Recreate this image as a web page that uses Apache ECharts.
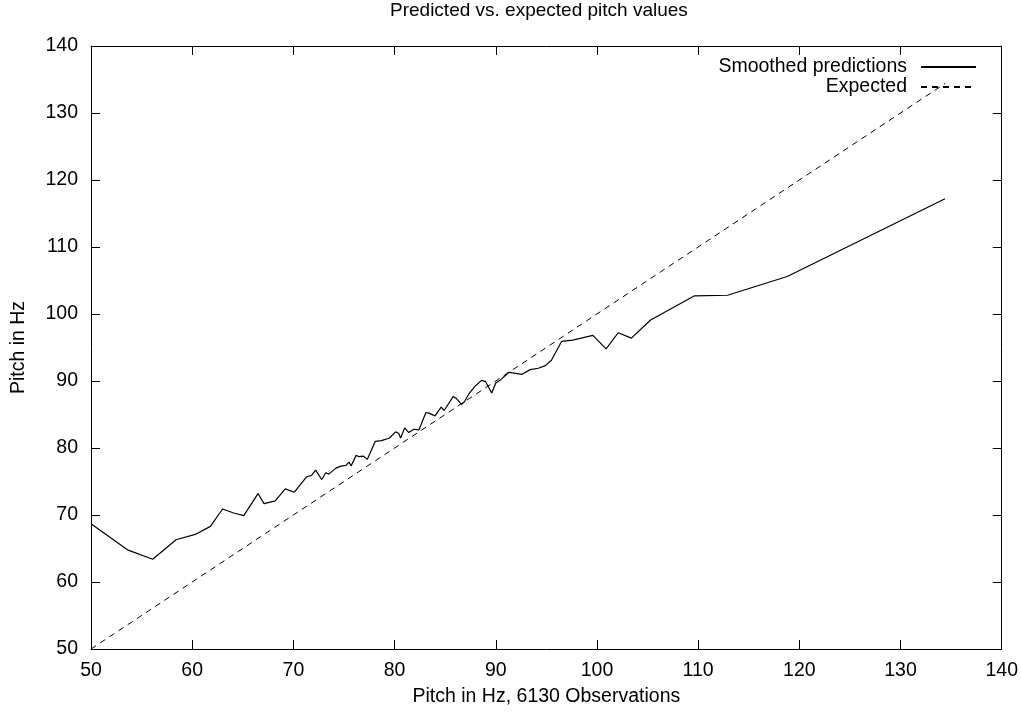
<!DOCTYPE html>
<html>
<head>
<meta charset="utf-8">
<title>Predicted vs. expected pitch values</title>
<script src="https://cdn.jsdelivr.net/npm/echarts@6/dist/echarts.min.js"></script>
<style>
  html, body { margin: 0; padding: 0; background: #fff; }
  #chart { width: 1021px; height: 713px; }
</style>
</head>
<body>
<div id="chart"></div>
<script>
// Smoothed model predictions (Hz) against the true pitch (Hz)
const predX = [50, 53.6, 56.1, 58.4, 60.3, 61.8, 63.0, 64.1, 65.1, 66.5, 67.1, 68.2, 69.2, 70.1,
  71.3, 71.8, 72.2, 72.8, 73.2, 73.5, 74.2, 74.7, 75.2, 75.5, 75.7, 76.2, 76.5, 76.9, 77.3,
  78.1, 78.7, 79.5, 80.1, 80.4, 80.6, 81.0, 81.4, 81.9, 82.4, 83.1, 83.4, 84.0, 84.6, 84.9,
  85.8, 86.1, 86.6, 86.9, 87.4, 88.0, 88.6, 89.0, 89.6, 90.0, 90.5, 91.3, 92.6, 93.4, 94.2,
  94.9, 95.5, 96.5, 97.6, 99.6, 100.9, 102.1, 103.4, 105.3, 109.6, 112.9, 118.8, 134.4];
const predY = [68.7, 64.8, 63.4, 66.3, 67.1, 68.3, 70.9, 70.3, 69.9, 73.2, 71.7, 72.1, 73.9, 73.4,
  75.7, 75.9, 76.7, 75.3, 76.3, 76.1, 77.0, 77.3, 77.4, 77.9, 77.3, 78.9, 78.7, 78.8, 78.3,
  81.0, 81.1, 81.5, 82.4, 82.2, 81.5, 83.0, 82.3, 82.8, 82.7, 85.3, 85.2, 84.8, 86.1, 85.6,
  87.7, 87.4, 86.5, 86.9, 88.2, 89.3, 90.1, 89.9, 88.2, 89.7, 90.2, 91.3, 91.0, 91.7, 91.9,
  92.3, 93.1, 95.9, 96.1, 96.8, 94.8, 97.2, 96.4, 99.1, 102.7, 102.8, 105.6, 117.2];

// Identity reference: prediction equals truth
const expectedX = [50, 134.4];
const expectedY = [50, 134.4];

const xTicks = [50, 140, 10];   // min, max, step
const yTicks = [50, 140, 10];

const seriesNames = ['Smoothed predictions', 'Expected'];
const titleText = 'Predicted vs. expected pitch values';
const xName = 'Pitch in Hz, 6130 Observations';
const yName = 'Pitch in Hz';

const zip = (xs, ys) => xs.map((x, i) => [x, ys[i]]);

const FONT = 'Liberation Sans, Arial, Helvetica, sans-serif';
const FS = 19.5;
const INK = '#000';

const frameAxis = (extra) => Object.assign({
  type: 'value',
  splitLine: { show: false },
  axisLine: { show: true, lineStyle: { color: INK, width: 1 } },
  axisTick: { show: true, inside: true, length: 9, lineStyle: { color: INK, width: 1 } },
  minorTick: { show: false }
}, extra);

const chart = echarts.init(document.getElementById('chart'), null, { renderer: 'canvas' });

chart.setOption({
  animation: false,
  backgroundColor: '#fff',
  title: {
    text: titleText,
    left: 390,
    top: 1,
    padding: 0,
    textStyle: { fontFamily: FONT, fontSize: 19, fontWeight: 'normal', color: INK }
  },
  legend: [0, 1].map(i => ({
    data: [seriesNames[i]],
    orient: 'vertical',
    align: 'right',
    right: 44,
    top: 57 + i * 20,
    padding: 0,
    itemWidth: 55,
    itemHeight: 10,
    selectedMode: false,
    itemStyle: { opacity: 0 },
    textStyle: { fontFamily: FONT, fontSize: FS, color: INK, padding: [0, 9, 0, 0] }
  })),
  grid: { left: 91, right: 19, top: 46, bottom: 64, containLabel: false },
  xAxis: [
    frameAxis({
      min: xTicks[0], max: xTicks[1], interval: xTicks[2],
      position: 'bottom',
      name: xName,
      nameLocation: 'middle',
      nameGap: 38,
      nameTextStyle: { fontFamily: FONT, fontSize: FS, color: INK },
      axisLabel: { margin: 12, fontFamily: FONT, fontSize: FS, color: INK }
    }),
    frameAxis({
      min: xTicks[0], max: xTicks[1], interval: xTicks[2],
      position: 'top',
      axisLabel: { show: false }
    })
  ],
  yAxis: [
    frameAxis({
      min: yTicks[0], max: yTicks[1], interval: yTicks[2],
      position: 'left',
      name: yName,
      nameLocation: 'middle',
      nameGap: 62,
      nameRotate: 90,
      nameTextStyle: { fontFamily: FONT, fontSize: FS, color: INK },
      axisLabel: { margin: 13, fontFamily: FONT, fontSize: FS, color: INK }
    }),
    frameAxis({
      min: yTicks[0], max: yTicks[1], interval: yTicks[2],
      position: 'right',
      axisLabel: { show: false }
    })
  ],
  series: [
    {
      name: seriesNames[0],
      type: 'line',
      data: zip(predX, predY),
      symbol: 'none',
      lineStyle: { color: INK, width: 1.2, type: 'solid' },
      itemStyle: { color: INK }
    },
    {
      name: seriesNames[1],
      type: 'line',
      data: zip(expectedX, expectedY),
      symbol: 'none',
      lineStyle: { color: INK, width: 1, type: [6, 5] },
      itemStyle: { color: INK }
    }
  ]
});
</script>
</body>
</html>
